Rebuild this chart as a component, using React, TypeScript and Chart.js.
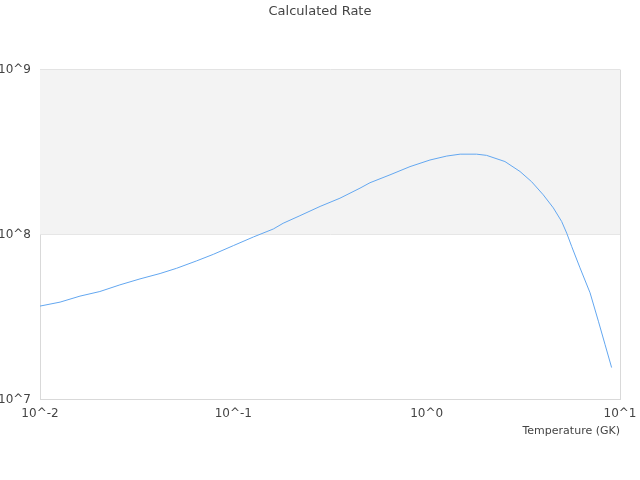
import { useEffect, useRef } from 'react';
import { Chart, registerables } from 'chart.js';
Chart.register(...registerables);

const temperatures = [
  0.01, 0.0127, 0.0161, 0.0204, 0.0259, 0.0329, 0.0418, 0.0509, 0.0646, 0.0788,
  0.1, 0.127, 0.161, 0.181, 0.221, 0.281, 0.356, 0.452, 0.509, 0.646,
  0.82, 1.04, 1.27, 1.49, 1.81, 2.04, 2.54, 3.04, 3.49, 4.01,
  4.52, 4.99, 5.3, 5.62, 6.21, 7.0, 7.73, 8.36, 9.05,
];
const rates = [
  3.68e7, 3.89e7, 4.23e7, 4.51e7, 4.95e7, 5.38e7, 5.8e7, 6.24e7, 6.92e7, 7.58e7,
  8.56e7, 9.66e7, 1.08e8, 1.17e8, 1.3e8, 1.48e8, 1.66e8, 1.91e8, 2.06e8, 2.3e8,
  2.58e8, 2.83e8, 2.99e8, 3.07e8, 3.07e8, 3.02e8, 2.77e8, 2.41e8, 2.09e8, 1.74e8,
  1.45e8, 1.2e8, 1.02e8, 8.48e7, 6.28e7, 4.43e7, 2.98e7, 2.16e7, 1.56e7,
];
const xTicks = [0.01, 0.1, 1, 10];
const yTicks = [1e7, 1e8, 1e9];
const bands = [[1e8, 1e9]];

const expLabel = (v: number) => '10^' + Math.round(Math.log10(v));

const bandPlugin = {
  id: 'bands',
  beforeDatasetsDraw(chart: any) {
    const { ctx, chartArea, scales } = chart;
    ctx.save();
    ctx.fillStyle = '#f3f3f3';
    for (const [lo, hi] of bands) {
      const top = scales.y.getPixelForValue(hi);
      const bottom = scales.y.getPixelForValue(lo);
      ctx.fillRect(chartArea.left, top, chartArea.right - chartArea.left, bottom - top);
    }
    ctx.restore();
  },
};

export default function App() {
  const ref = useRef<HTMLCanvasElement | null>(null);
  useEffect(() => {
    document.body.style.margin = '0';
    if (!ref.current) return;
    const chart = new Chart(ref.current, {
      type: 'line',
      data: {
        datasets: [{
          data: temperatures.map((t, i) => ({ x: t, y: rates[i] })),
          borderColor: '#63a7f0',
          borderWidth: 1,
          pointRadius: 0,
          tension: 0,
          fill: false,
        }],
      },
      plugins: [bandPlugin],
      options: {
        animation: false,
        responsive: false,
        layout: { padding: { left: 0, right: 0, top: 0, bottom: 42 } },
        plugins: {
          legend: { display: false },
          tooltip: { enabled: false },
          title: {
            display: true,
            text: 'Calculated Rate',
            color: '#444',
            font: { family: 'DejaVu Sans', size: 13, weight: 'normal' },
            padding: { top: 4, bottom: 50 },
          },
        },
        scales: {
          x: {
            type: 'logarithmic',
            min: 0.01,
            max: 10,
            afterBuildTicks: (s: any) => { s.ticks = xTicks.map((v) => ({ value: v })); },
            afterFit: (s: any) => { s.paddingLeft = 0; s.paddingRight = 20; },
            ticks: {
              color: '#444',
              font: { family: 'DejaVu Sans', size: 12 },
              padding: 7,
              maxRotation: 0,
              autoSkip: false,
              callback: (v: any) => expLabel(Number(v)),
            },
            grid: {
              drawTicks: false,
              color: (c: any) => (c.index === 0 || c.index === xTicks.length - 1 ? '#d9d9d9' : 'rgba(0,0,0,0)'),
            },
            border: { color: '#d9d9d9' },
            title: {
              display: true,
              text: 'Temperature (GK)',
              align: 'end',
              color: '#444',
              font: { family: 'DejaVu Sans', size: 11 },
              padding: { top: -3, bottom: 0 },
            },
          },
          y: {
            type: 'logarithmic',
            min: 1e7,
            max: 1e9,
            afterBuildTicks: (s: any) => { s.ticks = yTicks.map((v) => ({ value: v })); },
            afterFit: (s: any) => { s.width = 40; },
            ticks: {
              color: '#444',
              font: { family: 'DejaVu Sans', size: 12 },
              padding: 9,
              autoSkip: false,
              callback: (v: any) => expLabel(Number(v)),
            },
            grid: { drawTicks: false, color: '#d9d9d9' },
            border: { color: '#d9d9d9' },
          },
        },
      },
    });
    return () => chart.destroy();
  }, []);
  return (
    <div style={{ width: 640, height: 480 }}>
      <canvas ref={ref} width={640} height={480} style={{ width: 640, height: 480 }} />
    </div>
  );
}
